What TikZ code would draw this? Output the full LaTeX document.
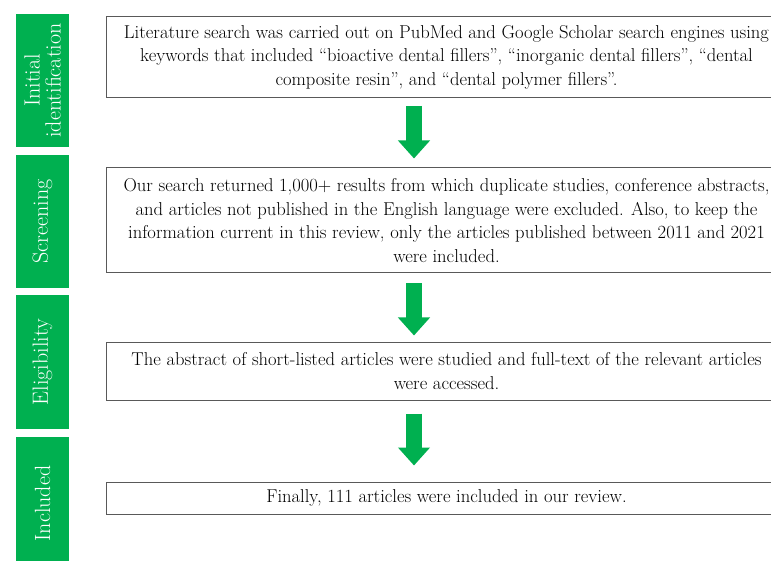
\documentclass[tikz,border=0pt]{standalone}
\usepackage{xcolor}
\usepackage{tikz}
\usetikzlibrary{arrows.meta}
\usetikzlibrary{positioning}

\definecolor{stagegreen}{HTML}{00B050}
\definecolor{boxgrey}{HTML}{595959}

\begin{document}
\begin{tikzpicture}[
    x=1pt, y=1pt,
    stage label/.style={rectangle, fill=stagegreen, text=white, rotate=90,
      minimum width=133pt, minimum height=53pt, inner sep=0pt, align=center,
      font=\fontsize{22}{21}\selectfont},
    info box/.style={rectangle, draw=boxgrey, line width=1pt, anchor=north west,
      minimum width=680pt, inner sep=0pt, align=center,
      font=\fontsize{18.6}{23.5}\selectfont},
    flow arrow/.style={draw=stagegreen, line width=16pt,
      -{Triangle[length=18pt, width=31pt]}},
  ]
  \useasboundingbox (0,0) rectangle (771,-561);

  % stages on the left
  \node[stage label] (S1) at (42.5,-80.5) {Initial\\identification};
  \node[stage label] (S2) at (42.5,-221.5) {Screening};
  \node[stage label] (S3) at (42.5,-362) {Eligibility};
  \node[stage label] (S4) at (42.5,-503.5) {Included};

  % boxes
  \node[info box, minimum height=81pt] (B1) at (106,-16)
    {Literature search was carried out on PubMed and Google Scholar search engines using\\
     keywords that included ``bioactive dental fillers'', ``inorganic dental fillers'', ``dental\\
     composite resin'', and ``dental polymer fillers''.};
  \node[info box, minimum height=105pt] (B2) at (106,-167.5)
    {Our search returned 1,000+ results from which duplicate studies, conference abstracts,\\
     and articles not published in the English language were excluded. Also, to keep the\\
     information current in this review, only the articles published between 2011 and 2021\\
     were included.};
  \node[info box, minimum height=58pt] (B3) at (106,-341.5)
    {The abstract of short-listed articles were studied and full-text of the relevant articles\\
     were accessed.};
  \node[info box, minimum height=32pt] (B4) at (106,-481.5)
    {Finally, 111 articles were included in our review.};

  % arrows
  \coordinate (ax) at (414,0);
  \draw[flow arrow, shorten <=8pt, shorten >=9pt] (B1.south -| ax) -- (B2.north -| ax);
  \draw[flow arrow, shorten <=10pt, shorten >=6pt] (B2.south -| ax) -- (B3.north -| ax);
  \draw[flow arrow, shorten <=13pt, shorten >=16pt] (B3.south -| ax) -- (B4.north -| ax);

\end{tikzpicture}
\end{document}
